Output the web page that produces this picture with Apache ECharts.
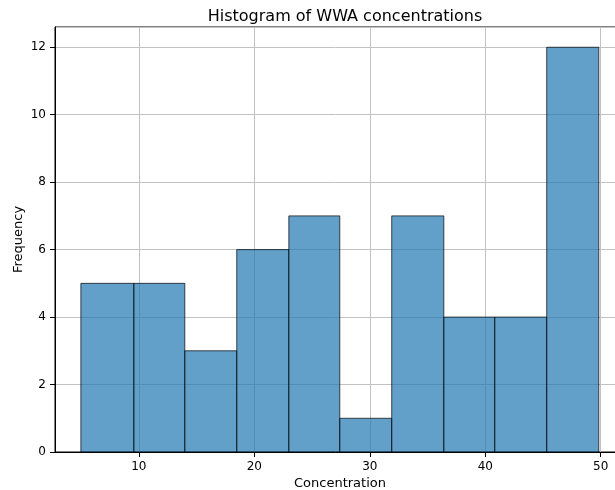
<!DOCTYPE html>
<html>
<head>
<meta charset="utf-8">
<title>Histogram of WWA concentrations</title>
<script src="https://cdn.jsdelivr.net/npm/echarts@6/dist/echarts.min.js"></script>
<style>
    html, body { margin: 0; padding: 0; background: #fff; }
    #chart { width: 615px; height: 490px; }
</style>
</head>
<body>
<div id="chart"></div>
<script>
// bin edges (concentration)
var binEdges = [4.98, 9.57, 13.98, 18.48, 22.99, 27.40, 31.90, 36.41, 40.82, 45.32, 49.83];
// frequency per bin
var counts = [5, 5, 3, 6, 7, 1, 7, 4, 4, 12];
var xTicks = [10, 20, 30, 40, 50];
var yTicks = [0, 2, 4, 6, 8, 10, 12];

var bins = [];
for (var i = 0; i < counts.length; i++) {
    bins.push([binEdges[i], binEdges[i + 1], counts[i]]);
}

var font = "DejaVu Sans";
var chart = echarts.init(document.getElementById("chart"));
chart.setOption({
    animation: false,
    title: {
        text: "Histogram of WWA concentrations",
        left: 340,
        textAlign: "center",
        top: 4,
        textStyle: { fontFamily: font, fontSize: 16, fontWeight: "normal", color: "#000" },
    },
    grid: {
        left: 55,
        top: 27,
        width: 570,
        height: 425,
        outerBoundsMode: "none",
        containLabel: false,
        show: true,
        borderColor: "#000",
        borderWidth: 1,
        backgroundColor: "transparent",
    },
    xAxis: {
        type: "value",
        min: 2.74,
        max: 52.1,
        name: "Concentration",
        nameLocation: "middle",
        nameGap: 25,
        nameMoveOverlap: false,
        nameTextStyle: { fontFamily: font, fontSize: 13, color: "#000" },
        axisLine: { show: true, lineStyle: { color: "#000", width: 1 } },
        axisTick: { show: true, length: 5, lineStyle: { color: "#000" } },
        axisLabel: {
            fontFamily: font, fontSize: 12, color: "#000", margin: 9,
            showMinLabel: false, showMaxLabel: false,
            formatter: function (v) { return xTicks.indexOf(v) >= 0 ? String(v) : ""; },
        },
        splitLine: { show: true, lineStyle: { color: "#c2c2c2", width: 1 } },
    },
    yAxis: {
        type: "value",
        min: 0,
        max: 12.6,
        interval: 2,
        name: "Frequency",
        nameLocation: "middle",
        nameGap: 30,
        nameMoveOverlap: false,
        nameTextStyle: { fontFamily: font, fontSize: 13, color: "#000" },
        axisLine: { show: true, lineStyle: { color: "#000", width: 1 } },
        axisTick: { show: true, length: 5, lineStyle: { color: "#000" } },
        axisLabel: {
            fontFamily: font, fontSize: 12, color: "#000", margin: 9,
            showMaxLabel: false,
            formatter: function (v) { return yTicks.indexOf(v) >= 0 ? String(v) : ""; },
        },
        splitLine: { show: true, lineStyle: { color: "#c2c2c2", width: 1 } },
    },
    series: [
        {
            type: "custom",
            data: bins,
            encode: { x: [0, 1], y: 2 },
            renderItem: function (params, api) {
                var p0 = api.coord([api.value(0), 0]);
                var p1 = api.coord([api.value(1), api.value(2)]);
                return {
                    type: "rect",
                    shape: { x: p0[0], y: p1[1], width: p1[0] - p0[0], height: p0[1] - p1[1] },
                    style: { fill: "rgba(31,119,180,0.7)", stroke: "rgba(0,0,0,0.7)", lineWidth: 1 },
                };
            },
        },
    ],
});
</script>
</body>
</html>
